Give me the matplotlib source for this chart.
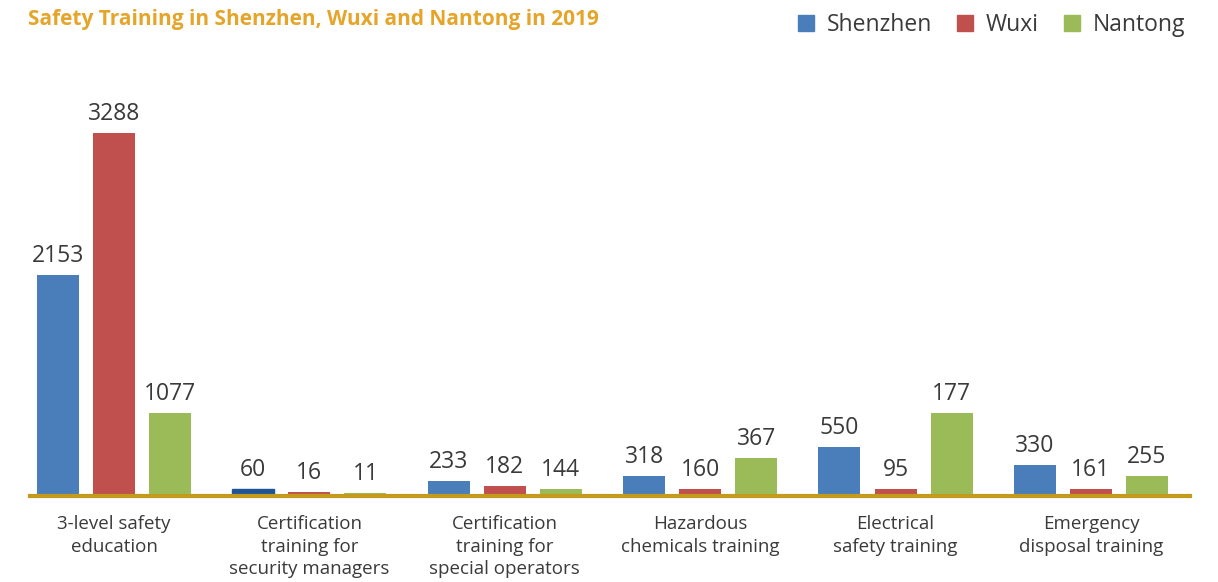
import numpy as np
import matplotlib
matplotlib.use("Agg")
import matplotlib.pyplot as plt
from matplotlib.patches import Patch

plt.rcParams['font.family'] = ['Open Sans', 'DejaVu Sans']

# Categories and series
categories = ['3-level safety\neducation',
              'Certification\ntraining for\nsecurity managers',
              'Certification\ntraining for\nspecial operators',
              'Hazardous\nchemicals training',
              'Electrical\nsafety training',
              'Emergency\ndisposal training']
series = ['Shenzhen', 'Wuxi', 'Nantong']

# Printed values
shenzhen_vals = [2153, 60, 233, 318, 550, 330]
wuxi_vals = [3288, 16, 182, 160, 95, 161]
nantong_vals = [1077, 11, 144, 367, 177, 255]

# Bar heights as drawn in the source (not proportional to the printed values)
shenzhen_shown = [221, 7, 15, 20, 49, 31]
wuxi_shown = [363, 4.5, 10, 7.5, 7.5, 7.5]
nantong_shown = [83, 3, 7, 38, 83, 20]

colors = ['#4a7ebb', '#c0504d', '#9bbb59']
title_color = '#e5a52b'
axis_color = '#c49a1c'
text_color = '#3a3a3a'

W, H = 1218, 582
fig = plt.figure(figsize=(W / 100, H / 100), dpi=100)
base_px = 496
top_px = 100
ax = fig.add_axes([30 / W, 1 - base_px / H, 1160 / W, (base_px - top_px) / H])

x = np.arange(len(categories))
offset = 0.287
width = 0.215
vals = [shenzhen_vals, wuxi_vals, nantong_vals]
shown = [shenzhen_shown, wuxi_shown, nantong_shown]
for i in range(3):
    bars = ax.bar(x + (i - 1) * offset, shown[i], width, color=colors[i], zorder=2)
    if i == 0:
        bars[1].set_color('#1f5596')
    for b, v in zip(bars, vals[i]):
        ax.annotate(str(v), (b.get_x() + b.get_width() / 2, b.get_height()),
                    xytext=(0, 5), textcoords='offset points',
                    ha='center', va='bottom', fontsize=16.5, color=text_color)

ax.set_xlim(-0.43, 5.507)
ax.set_ylim(0, base_px - top_px)
for s in ['top', 'right', 'left']:
    ax.spines[s].set_visible(False)
ax.spines['bottom'].set_color(axis_color)
ax.spines['bottom'].set_linewidth(3)
ax.spines['bottom'].set_zorder(3)
ax.set_yticks([])
ax.set_xticks(x)
ax.set_xticklabels(categories, fontsize=13.5, color=text_color, linespacing=1.3)
ax.tick_params(axis='x', length=0, pad=14)

fig.text(28 / W, 1 - 20 / H, 'Safety Training in Shenzhen, Wuxi and Nantong in 2019',
         fontsize=15, fontweight='bold', color=title_color, va='center', ha='left')

handles = [Patch(color=c) for c in colors]
fig.legend(handles, series, loc='upper right', bbox_to_anchor=(1206 / W, 1 + 8 / H),
           ncol=3, frameon=False, fontsize=16.5, handlelength=0.7, handleheight=0.7,
           handletextpad=0.55, columnspacing=1.1, labelcolor=text_color)

fig.savefig('out.png', dpi=100, facecolor='white')
